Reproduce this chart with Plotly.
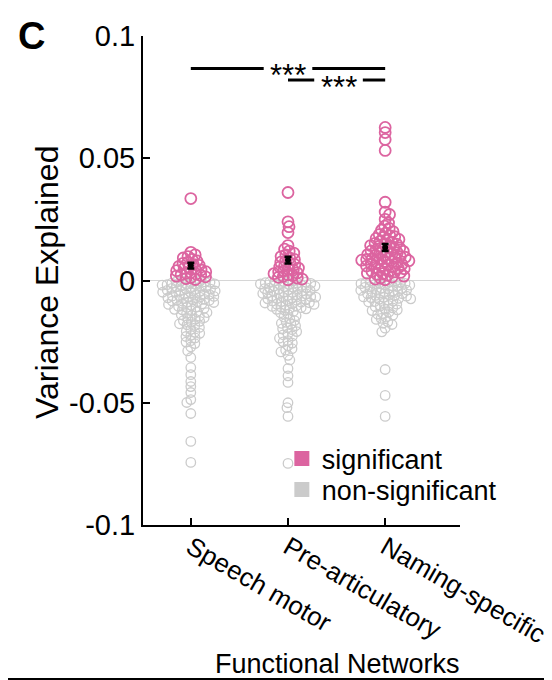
import numpy as np
import plotly.graph_objects as go

# %% data
networks = ["Speech motor", "Pre-articulatory", "Naming-specific"]

speech_sig = [0.0004, 0.0008, 0.0012, 0.0015, 0.0018, 0.0021, 0.0024, 0.0027, 0.003, 0.0033,
              0.0036, 0.004, 0.0043, 0.0047, 0.005, 0.0054, 0.0058, 0.0062, 0.0066, 0.007,
              0.0075, 0.008, 0.0086, 0.0092, 0.0098, 0.0105, 0.0115, 0.0335]
speech_ns = [-0.0001, -0.0002, -0.0004, -0.0006, -0.0007, -0.0009, -0.0011, -0.0013, -0.0014, -0.0016, -0.0017,
             -0.0019, -0.0022, -0.0024, -0.0025, -0.0028,
             -0.003, -0.0032, -0.0034, -0.0035, -0.0037, -0.004, -0.0042, -0.0043, -0.0045, -0.0047, -0.0048,
             -0.0051, -0.0054, -0.0056, -0.0057,
             -0.006, -0.0062, -0.0063, -0.0065, -0.0068, -0.0069, -0.0071, -0.0074, -0.0077, -0.0079, -0.008,
             -0.0082, -0.0084, -0.0087, -0.0089,
             -0.009, -0.0094, -0.0096, -0.0098, -0.0102, -0.0106, -0.0108, -0.011, -0.0114, -0.0118, -0.012,
             -0.0123, -0.0128, -0.0131, -0.0134,
             -0.014, -0.0143, -0.0146, -0.0152, -0.0155, -0.0158, -0.0164, -0.0167, -0.017, -0.0177, -0.0181,
             -0.0184, -0.0192,
             -0.02, -0.0208, -0.0212, -0.0216, -0.0225, -0.0229, -0.0235, -0.0246, -0.0252, -0.0258, -0.0272, -0.0288,
             -0.0315, -0.0356, -0.0385, -0.0413, -0.0434, -0.0458, -0.0487, -0.0499, -0.0544, -0.0658, -0.0744]

preart_sig = [0.0003, 0.0006, 0.001, 0.0013, 0.0017, 0.002, 0.0024, 0.0028, 0.0031, 0.0035,
              0.0039, 0.0043, 0.0047, 0.0051, 0.0055, 0.006, 0.0065, 0.007, 0.0075, 0.008,
              0.0086, 0.0092, 0.0098, 0.0105, 0.0112, 0.012, 0.0128, 0.0143, 0.0196, 0.022, 0.024, 0.036]
preart_ns = [-0.0001, -0.0002, -0.0004, -0.0005, -0.0007, -0.0009, -0.0011, -0.0012, -0.0014, -0.0016, -0.0017,
             -0.002, -0.0022, -0.0023, -0.0026, -0.0028, -0.0029,
             -0.0031, -0.0033, -0.0035, -0.0036, -0.0039, -0.0041, -0.0043, -0.0044, -0.0047, -0.0049, -0.005,
             -0.0053, -0.0055, -0.0056, -0.0059,
             -0.0061, -0.0063, -0.0064, -0.0066, -0.0068, -0.0069, -0.0072, -0.0074, -0.0075, -0.0078, -0.0081,
             -0.0083, -0.0084, -0.0087, -0.0089,
             -0.0091, -0.0092, -0.0095, -0.0097, -0.0098, -0.0101, -0.0104, -0.0106, -0.0108, -0.0111, -0.0114,
             -0.0116, -0.0118,
             -0.0122, -0.0127, -0.0132, -0.0138, -0.0144, -0.015, -0.0157,
             -0.0164, -0.0171, -0.0175, -0.0178, -0.0185, -0.0193, -0.0197, -0.0201, -0.0209, -0.0218, -0.0222,
             -0.0227, -0.0236, -0.0246, -0.0251, -0.0256, -0.0267, -0.0279, -0.0285, -0.0292, -0.0306, -0.0325,
             -0.036, -0.039, -0.0417, -0.05, -0.052, -0.0556, -0.0748]

naming_sig = [0.0003, 0.0006, 0.001, 0.0014, 0.0018, 0.0021, 0.0025, 0.0028,
              0.003, 0.0033, 0.0035, 0.0038, 0.004, 0.0043, 0.0046, 0.0048, 0.0051, 0.0054, 0.0056, 0.0059,
              0.0061, 0.0063, 0.0066, 0.0068, 0.0071, 0.0073, 0.0076, 0.0078, 0.0081, 0.0083, 0.0086, 0.0088, 0.0089,
              0.009, 0.0093, 0.0095, 0.0098, 0.01, 0.0103, 0.0106, 0.0108, 0.0111, 0.0114, 0.0116, 0.0119,
              0.0121, 0.0124, 0.0127, 0.013, 0.0133, 0.0137, 0.014, 0.0143, 0.0146, 0.0149,
              0.0152, 0.0156, 0.016, 0.0164, 0.0168, 0.0172, 0.0176, 0.0179,
              0.0183, 0.0188, 0.0194, 0.02, 0.0206, 0.0213,
              0.0222, 0.0235, 0.025, 0.027, 0.028, 0.032, 0.0532, 0.0577, 0.0605, 0.0626]
naming_ns = [-0.0001, -0.0002, -0.0005, -0.0007, -0.0008, -0.001, -0.0012, -0.0013, -0.0016, -0.0018, -0.0019,
             -0.0022, -0.0024, -0.0025, -0.0028,
             -0.0031, -0.0033, -0.0034, -0.0037, -0.0039, -0.004, -0.0043, -0.0045, -0.0046, -0.0049, -0.0052,
             -0.0054, -0.0055, -0.0058,
             -0.0061, -0.0062, -0.0064, -0.0067, -0.0069, -0.007, -0.0073, -0.0075, -0.0077, -0.008, -0.0084,
             -0.0086, -0.0088,
             -0.0092, -0.0097, -0.0102, -0.0105, -0.0107, -0.0112, -0.0117, -0.012, -0.0123, -0.0129,
             -0.0135, -0.0138, -0.0142, -0.015, -0.0155, -0.0159, -0.0169, -0.0175, -0.018, -0.0195, -0.021,
             -0.0364, -0.047, -0.0556]

sig_data = [speech_sig, preart_sig, naming_sig]
ns_data = [speech_ns, preart_ns, naming_ns]

# comparisons: (from, to, bar height, label)
comparisons = [(1, 3, 0.0867, "***"), (2, 3, 0.082, "***")]

PINK = "#dc64a0"
GRAY = "#cbcbcb"
FONT = "Liberation Sans, Arial, sans-serif"

# pixel scale of the plot area (used only for the swarm layout)
Y_PX = 2445.0   # px per unit of variance
X_PX = 97.5     # px per category


def swarm(values, min_dist=5.0):
    """beeswarm: each point goes to the free spot closest to the centre line"""
    vals = np.asarray(values) * Y_PX
    order = np.argsort(-vals)
    placed = []
    offs = np.zeros(len(vals))
    for n, i in enumerate(order):
        y = vals[i]
        cands = [0.0]
        for px, py in placed:
            dy = y - py
            if abs(dy) < min_dist:
                dx = np.sqrt(min_dist ** 2 - dy ** 2)
                cands += [px + dx, px - dx]
        side = 1 if n % 2 == 0 else -1
        cands.sort(key=lambda c: (round(abs(c), 6), -side * np.sign(c)))
        for c in cands:
            if all((c - px) ** 2 + (y - py) ** 2 >= min_dist ** 2 - 1e-6 for px, py in placed):
                break
        placed.append((c, y))
        offs[i] = c / X_PX
    return offs


fig = go.Figure()

for i, name in enumerate(networks):
    sig = np.array(sig_data[i])
    ns = np.array(ns_data[i])
    offs = swarm(np.concatenate([sig, ns]))
    xs = i + 1 + offs
    fig.add_trace(go.Scatter(x=xs[len(sig):], y=ns, mode="markers", showlegend=False, hoverinfo="y",
                             marker=dict(symbol="circle-open", size=9.5, color=GRAY, line=dict(width=1.3, color=GRAY))))
    fig.add_trace(go.Scatter(x=xs[:len(sig)], y=sig, mode="markers", showlegend=False, hoverinfo="y",
                             marker=dict(symbol="circle-open", size=11, color=PINK, line=dict(width=1.8, color=PINK))))
    # mean +- sem of the significant ones
    m = sig.mean()
    se = sig.std(ddof=1) / np.sqrt(len(sig))
    fig.add_trace(go.Scatter(x=[i + 1], y=[m], mode="markers", showlegend=False,
                             marker=dict(size=6, color="black"),
                             error_y=dict(type="data", array=[se], color="black", thickness=2.6, width=3.5)))

# legend entries
fig.add_trace(go.Scatter(x=[None], y=[None], mode="markers", name="significant", legend="legend",
                         marker=dict(symbol="square", size=15, color=PINK)))
fig.add_trace(go.Scatter(x=[None], y=[None], mode="markers", name="non-significant", legend="legend2",
                         marker=dict(symbol="square", size=15, color=GRAY)))

# significance bars, broken around the stars
gap = 0.25
for x0, x1, yb, label in comparisons:
    xt = (x0 + x1) / 2 if x0 == 1 else (x0 + x1) / 2 + 0.02
    for a, b in [(x0, xt - gap), (xt + gap, x1)]:
        fig.add_shape(type="line", x0=a, x1=b, y0=yb, y1=yb, xref="x", yref="y",
                      line=dict(color="black", width=3))
    fig.add_annotation(x=xt, y=yb, text=label, showarrow=False, xref="x", yref="y", yshift=-7,
                       xanchor="center", yanchor="middle",
                       font=dict(size=31, color="black", family=FONT))

fig.add_annotation(text="<b>C</b>", x=-0.352, y=1.0, xref="paper", yref="paper", showarrow=False,
                   xanchor="center", yanchor="middle", font=dict(size=38, color="black", family=FONT))
fig.add_annotation(text="Variance Explained", x=-0.303, y=0.497, xref="paper", yref="paper", showarrow=False,
                   xanchor="center", yanchor="middle", textangle=-90,
                   font=dict(size=32, color="black", family=FONT))
fig.add_annotation(text="Functional Networks", x=0.615, y=-0.284, xref="paper", yref="paper", showarrow=False,
                   xanchor="center", yanchor="middle", font=dict(size=27, color="black", family=FONT))
fig.add_shape(type="line", x0=-0.6, x1=1.6, y0=-0.317, y1=-0.317, xref="paper", yref="paper",
              line=dict(color="black", width=4))

fig.update_xaxes(range=[0.508, 3.77], tickvals=[1, 2, 3], ticktext=networks, tickangle=30,
                 ticklabeloverflow="allow", automargin=False, ticklabelstandoff=-5,
                 showline=True, linecolor="black", linewidth=2, ticks="inside", ticklen=7, tickwidth=2,
                 tickcolor="black", showgrid=False, zeroline=False,
                 tickfont=dict(size=26, color="black", family=FONT))
fig.update_yaxes(range=[-0.1, 0.1], tickvals=[-0.1, -0.05, 0, 0.05, 0.1],
                 ticktext=["-0.1", "-0.05", "0", "0.05", "0.1"], automargin=False,
                 showline=True, linecolor="black", linewidth=2, ticks="inside", ticklen=7, tickwidth=2,
                 tickcolor="black", showgrid=False, zeroline=True, zerolinecolor="#d6d6d6", zerolinewidth=1.2,
                 ticklabelstandoff=0, tickfont=dict(size=29, color="black", family=FONT))

leg_font = dict(size=27, color="black", family=FONT)
fig.update_layout(width=552, height=680, margin=dict(l=135, r=100, t=28, b=163, autoexpand=False),
                  plot_bgcolor="white", paper_bgcolor="white",
                  legend=dict(x=0.438, y=0.135, xanchor="left", yanchor="middle", bgcolor="rgba(0,0,0,0)",
                              font=leg_font, itemwidth=30),
                  legend2=dict(x=0.438, y=0.0716, xanchor="left", yanchor="middle", bgcolor="rgba(0,0,0,0)",
                               font=leg_font, itemwidth=30))

fig.write_html("out.html")
